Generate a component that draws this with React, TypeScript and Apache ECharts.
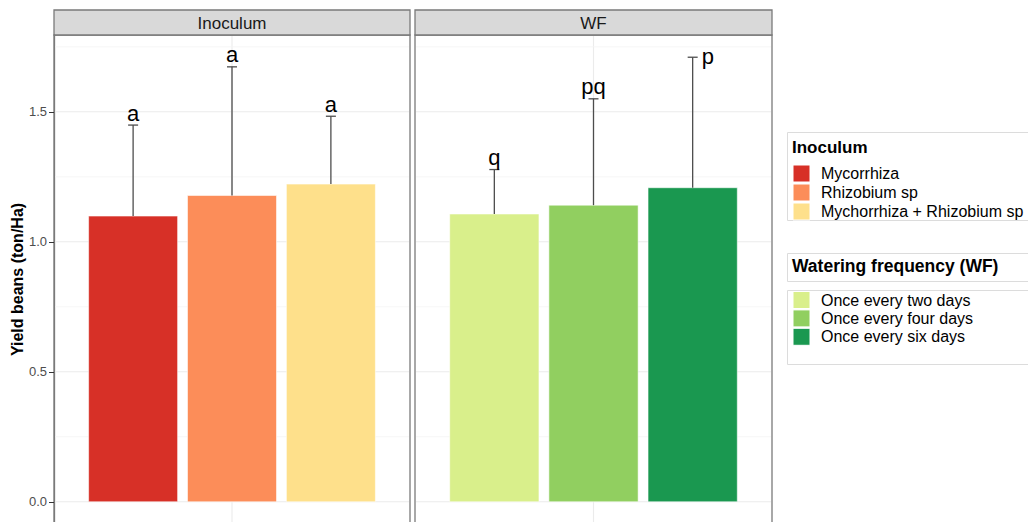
import React, { useEffect, useRef } from 'react';
import * as echarts from 'echarts';

// ---------- data ----------
const panelTitles = ['Inoculum', 'WF'];
const inoculumLevels = ['Mycorrhiza', 'Rhizobium sp', 'Mychorrhiza + Rhizobium sp'];
const wfLevels = ['Once every two days', 'Once every four days', 'Once every six days'];
const inoculumMeans = [1.099, 1.178, 1.222];
const inoculumUpper = [1.449, 1.673, 1.483];
const inoculumLetters = ['a', 'a', 'a'];
const wfMeans = [1.107, 1.141, 1.208];
const wfUpper = [1.278, 1.55, 1.71];
const wfLetters = ['q', 'pq', 'p'];
const inoculumColors = ['#D73027', '#FC8D59', '#FEE08B'];
const wfColors = ['#D9EF8B', '#91CF60', '#1A9850'];
const yMajorTicks = [0, 0.5, 1.0, 1.5];
const yMinorTicks = [0.25, 0.75, 1.25, 1.75];
const dodgePositions = [-0.3, 0, 0.3];
const yTitle = 'Yield beans (ton/Ha)';
const legendTitles = ['Inoculum', 'Watering frequency (WF)'];

// ---------- layout / style ----------
const Y_MIN = -0.0855;
const Y_MAX = 1.7955;
const X_MIN = -0.54;
const X_MAX = 0.54;
const BAR_HALF = 0.135;
const FONT = '"Liberation Sans", Arial, sans-serif';
const BORDER = '#7a7a7a';
const GRIDS = [
  { left: 54, top: 35, width: 356, height: 489 },
  { left: 415, top: 35, width: 357, height: 489 },
];

function gridLineSeries(idx: number) {
  const rows = [
    ...yMajorTicks.map((v) => [0, v, 1]),
    ...yMinorTicks.map((v) => [0, v, 0]),
  ];
  return {
    type: 'custom',
    xAxisIndex: idx,
    yAxisIndex: idx,
    z: 1,
    silent: true,
    data: rows,
    encode: { x: 0, y: 1 },
    renderItem: (params: any, api: any) => {
      const cs = params.coordSys;
      const y = api.coord([0, api.value(1)])[1];
      const major = api.value(2) === 1;
      const children: any[] = [
        {
          type: 'line',
          shape: { x1: cs.x + 1, y1: y, x2: cs.x + cs.width - 1, y2: y },
          style: { stroke: major ? '#ebebeb' : '#f4f4f4', lineWidth: major ? 1.1 : 0.8 },
        },
      ];
      if (params.dataIndex === 0) {
        const xc = api.coord([0, 0])[0];
        children.push({
          type: 'line',
          shape: { x1: xc, y1: cs.y + 1, x2: xc, y2: cs.y + cs.height - 1 },
          style: { stroke: '#ebebeb', lineWidth: 1.1 },
        });
      }
      return { type: 'group', children };
    },
  };
}

function barSeries(
  idx: number,
  means: number[],
  upper: number[],
  letters: string[],
  colors: string[],
  placement: string[]
) {
  return {
    type: 'custom',
    xAxisIndex: idx,
    yAxisIndex: idx,
    z: 3,
    data: means.map((m, i) => [dodgePositions[i], m, upper[i]]),
    encode: { x: 0, y: [1, 2] },
    renderItem: (params: any, api: any) => {
      const i = params.dataIndex;
      const x = api.value(0);
      const m = api.value(1);
      const u = api.value(2);
      const tl = api.coord([x - BAR_HALF, m]);
      const br = api.coord([x + BAR_HALF, 0]);
      const base = api.coord([x, m]);
      const top = api.coord([x, u]);
      const right = placement[i] === 'right';
      return {
        type: 'group',
        children: [
          {
            type: 'rect',
            shape: { x: tl[0], y: tl[1], width: br[0] - tl[0], height: br[1] - tl[1] },
            style: { fill: colors[i], stroke: 'rgba(255,255,255,0.55)', lineWidth: 1 },
          },
          {
            type: 'line',
            shape: { x1: base[0], y1: base[1], x2: top[0], y2: top[1] },
            style: { stroke: '#4d4d4d', lineWidth: 1.3 },
          },
          {
            type: 'line',
            shape: { x1: top[0] - 5, y1: top[1], x2: top[0] + 5, y2: top[1] },
            style: { stroke: '#4d4d4d', lineWidth: 1.3 },
          },
          {
            type: 'text',
            x: right ? top[0] + 9 : top[0],
            y: top[1] - 1,
            style: {
              text: letters[i],
              fill: '#000',
              fontSize: 22,
              fontFamily: FONT,
              align: right ? 'left' : 'center',
              verticalAlign: right ? 'middle' : 'bottom',
            },
          },
        ],
      };
    },
  };
}

function legendGraphics() {
  const els: any[] = [];
  const boxStroke = '#dcdcdc';
  // legend 1
  els.push({ type: 'rect', shape: { x: 787.5, y: 132.5, width: 260, height: 88 }, style: { fill: 'none', stroke: boxStroke, lineWidth: 1 } });
  els.push({ type: 'text', x: 792, y: 147.5, style: { text: legendTitles[0], font: `bold 17px ${FONT}`, fill: '#000', verticalAlign: 'middle' } });
  inoculumLevels.forEach((lab, i) => {
    const cy = 173.5 + i * 19;
    els.push({ type: 'rect', shape: { x: 793, y: cy - 8.5, width: 17, height: 17 }, style: { fill: inoculumColors[i], stroke: '#fff', lineWidth: 1 } });
    els.push({ type: 'text', x: 821, y: cy, style: { text: lab, font: `16px ${FONT}`, fill: '#000', verticalAlign: 'middle' } });
  });
  // legend 2
  els.push({ type: 'rect', shape: { x: 787.5, y: 253.5, width: 260, height: 28 }, style: { fill: 'none', stroke: boxStroke, lineWidth: 1 } });
  els.push({ type: 'text', x: 792, y: 266, style: { text: legendTitles[1], font: `bold 17.5px ${FONT}`, fill: '#000', verticalAlign: 'middle' } });
  els.push({ type: 'rect', shape: { x: 787.5, y: 290.5, width: 260, height: 74 }, style: { fill: 'none', stroke: boxStroke, lineWidth: 1 } });
  wfLevels.forEach((lab, i) => {
    const cy = 300 + i * 18.4;
    els.push({ type: 'rect', shape: { x: 793, y: cy - 8.5, width: 17, height: 17 }, style: { fill: wfColors[i], stroke: '#fff', lineWidth: 1 } });
    els.push({ type: 'text', x: 821, y: cy, style: { text: lab, font: `16px ${FONT}`, fill: '#000', verticalAlign: 'middle' } });
  });
  return els;
}

function stripGraphics() {
  return GRIDS.flatMap((g, i) => [
    {
      type: 'rect',
      shape: { x: g.left, y: 10, width: g.width, height: 25 },
      style: { fill: '#d9d9d9', stroke: BORDER, lineWidth: 1.3 },
    },
    {
      type: 'text',
      x: g.left + g.width / 2,
      y: 23,
      style: { text: panelTitles[i], font: `17px ${FONT}`, fill: '#1a1a1a', align: 'center', verticalAlign: 'middle' },
    },
  ]);
}

export default function App() {
  const ref = useRef<HTMLDivElement>(null);
  useEffect(() => {
    if (!ref.current) return;
    const chart = echarts.init(ref.current, undefined, { renderer: 'svg' });
    const yAxisBase = (idx: number) => ({
      type: 'value',
      gridIndex: idx,
      min: Y_MIN,
      max: Y_MAX,
      splitNumber: 4,
      axisLine: { show: idx === 0, onZero: false, lineStyle: { color: BORDER, width: 1.3 } },
      splitLine: { show: false },
      axisTick: {
        show: idx === 0,
        length: 5,
        lineStyle: { color: '#333', width: 1 },
        customValues: yMajorTicks,
      },
      axisLabel: {
        show: idx === 0,
        customValues: yMajorTicks,
        margin: 7,
        color: '#4d4d4d',
        fontSize: 13,
        fontFamily: FONT,
        formatter: (v: number) => v.toFixed(1),
      },
      ...(idx === 0
        ? {
            name: yTitle,
            nameLocation: 'middle',
            nameRotate: 90,
            nameGap: 27,
            nameTextStyle: { fontSize: 16, fontWeight: 'bold', fontFamily: FONT, color: '#000' },
          }
        : {}),
    });
    chart.setOption({
      animation: false,
      backgroundColor: '#fff',
      grid: GRIDS.map((g) => ({
        ...g,
        show: true,
        borderColor: BORDER,
        borderWidth: 1.3,
        backgroundColor: 'transparent',
        containLabel: false,
      })),
      xAxis: GRIDS.map((_, i) => ({
        type: 'value',
        gridIndex: i,
        min: X_MIN,
        max: X_MAX,
        show: false,
      })),
      yAxis: GRIDS.map((_, i) => yAxisBase(i)),
      graphic: [...stripGraphics(), ...legendGraphics()],
      series: [
        gridLineSeries(0),
        gridLineSeries(1),
        barSeries(0, inoculumMeans, inoculumUpper, inoculumLetters, inoculumColors, ['above', 'above', 'above']),
        barSeries(1, wfMeans, wfUpper, wfLetters, wfColors, ['above', 'above', 'right']),
      ],
    });
    return () => chart.dispose();
  }, []);
  return (
    <div
      ref={ref}
      style={{ position: 'fixed', left: 0, top: 0, width: 1028, height: 532, background: '#fff' }}
    />
  );
}
